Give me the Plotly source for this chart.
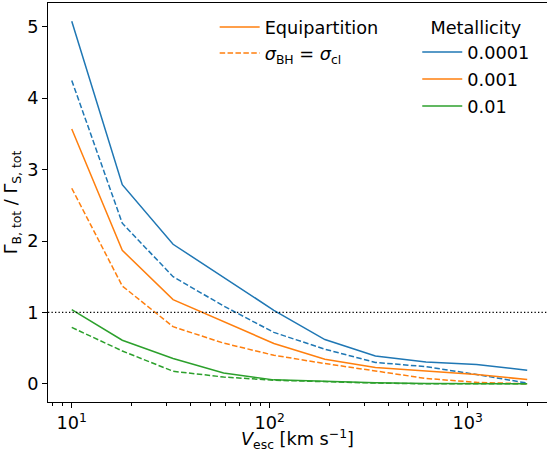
import plotly.graph_objects as go

# ---- data ----
v_esc = [10, 18, 32.5, 58.5, 105, 190, 342, 616, 1110, 2000]
metallicities = ["0.0001", "0.001", "0.01"]
ratio_equipartition = {
    "0.0001": [5.08, 2.79, 1.955, 1.49, 1.03, 0.62, 0.39, 0.305, 0.27, 0.19],
    "0.001": [3.57, 1.87, 1.18, 0.87, 0.565, 0.345, 0.23, 0.18, 0.13, 0.06],
    "0.01": [1.04, 0.61, 0.354, 0.15, 0.055, 0.03, 0.015, 0.005, 0.0, 0.0],
}
ratio_sigma_equal = {
    "0.0001": [4.25, 2.25, 1.50, 1.09, 0.72, 0.485, 0.30, 0.24, 0.13, 0.01],
    "0.001": [2.74, 1.37, 0.80, 0.57, 0.40, 0.284, 0.18, 0.075, 0.02, 0.0],
    "0.01": [0.79, 0.46, 0.176, 0.095, 0.05, 0.025, 0.01, 0.0, 0.0, 0.0],
}
threshold = 1.0
x_tickvals = [10, 100, 1000]
x_ticktext = ["10<sup>1</sup>", "10<sup>2</sup>", "10<sup>3</sup>"]
y_tickvals = [0, 1, 2, 3, 4, 5]

colors = {"0.0001": "#1f77b4", "0.001": "#ff7f0e", "0.01": "#2ca02c"}
DASH = "5.5px,2.4px"
FONT = "DejaVu Sans"
FS = 17.7

fig = go.Figure()

for z in metallicities:
    fig.add_trace(go.Scatter(
        x=v_esc, y=ratio_equipartition[z], mode="lines", name=z,
        line=dict(color=colors[z], width=1.5),
        legend="legend2", legendgroup="m" + z,
    ))
    fig.add_trace(go.Scatter(
        x=v_esc, y=ratio_sigma_equal[z], mode="lines", showlegend=False,
        line=dict(color=colors[z], width=1.5, dash=DASH),
    ))

# style legend entries
fig.add_trace(go.Scatter(
    x=[None], y=[None], mode="lines", name="Equipartition",
    line=dict(color=colors["0.001"], width=1.5),
    legend="legend", legendgroup="eq",
))
fig.add_trace(go.Scatter(
    x=[None], y=[None], mode="lines",
    name="<i>σ</i><sub>BH</sub> = <i>σ</i><sub>cl</sub>",
    line=dict(color=colors["0.001"], width=1.5, dash=DASH),
    legend="legend", legendgroup="sig",
))

fig.add_hline(y=threshold, line=dict(color="black", width=1.3, dash="1.3px,2.2px"))

minor_vals = [m * 10 ** e for e in range(0, 4) for m in range(2, 10)]

fig.update_layout(
    width=547, height=452,
    margin=dict(l=48, r=0, t=3, b=50, autoexpand=False),
    paper_bgcolor="white", plot_bgcolor="white",
    font=dict(family=FONT, size=FS, color="black"),
    showlegend=True,
    legend=dict(
        x=0.334, y=0.985, xanchor="left", yanchor="top",
        bgcolor="rgba(0,0,0,0)", borderwidth=0, itemwidth=40,
        font=dict(size=FS), traceorder="grouped", tracegroupgap=0,
    ),
    legend2=dict(
        x=0.74, y=0.98, xanchor="left", yanchor="top",
        bgcolor="rgba(0,0,0,0)", borderwidth=0, itemwidth=40,
        font=dict(size=FS), traceorder="grouped", tracegroupgap=1,
        title=dict(text="Metallicity", side="top center", font=dict(size=FS)),
    ),
    xaxis=dict(
        type="log", range=[0.880, 3.401], automargin=False,
        tickmode="array", tickvals=x_tickvals, ticktext=x_ticktext,
        ticks="outside", ticklen=5, tickwidth=1, tickcolor="black",
        showgrid=False, zeroline=False,
        showline=True, linecolor="black", linewidth=1, mirror=True,
        minor=dict(tickmode="array", tickvals=minor_vals, ticks="outside",
                   ticklen=3, tickwidth=0.8, tickcolor="black", showgrid=False),
        title=dict(text="<i>V</i><sub>esc</sub> [km s<sup>−1</sup>]",
                   font=dict(size=FS), standoff=4),
        tickfont=dict(size=FS),
    ),
    yaxis=dict(
        range=[-0.255, 5.335], automargin=False,
        tickmode="array", tickvals=y_tickvals,
        ticks="outside", ticklen=5, tickwidth=1, tickcolor="black",
        showgrid=False, zeroline=False,
        showline=True, linecolor="black", linewidth=1,
        title=dict(text="Γ<sub>B, tot</sub> / Γ<sub>S, tot</sub>",
                   font=dict(size=FS), standoff=4),
        tickfont=dict(size=FS),
    ),
)

fig.write_html("out.html", config={"displayModeBar": False},
               post_script="document.body.style.margin='0';")
